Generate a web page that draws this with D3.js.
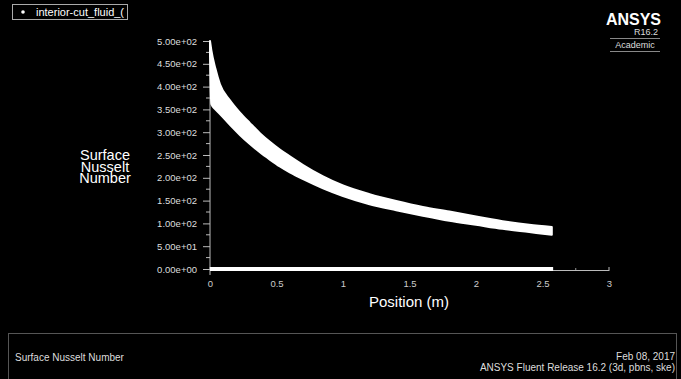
<!DOCTYPE html>
<html>
<head>
<meta charset="utf-8">
<script src="https://cdn.jsdelivr.net/npm/d3@7"></script>
<style>
  html, body { margin: 0; padding: 0; background: #000; }
  svg { display: block; }
  text { font-family: "Liberation Sans", Arial, sans-serif; }
</style>
</head>
<body>
<svg width="681" height="379"></svg>
<script>
// position along the cut (m) and the envelope of the scattered Nusselt cloud
var position = [0, 0.01, 0.04, 0.075, 0.15, 0.225, 0.3, 0.375, 0.45, 0.525, 0.6, 0.7, 0.85, 1.0, 1.2, 1.4, 1.6, 1.8, 2.0, 2.2, 2.4, 2.57];
var nuUpper  = [500, 480, 440, 405, 370, 343, 320, 298, 279, 262, 247, 228, 203, 183, 164, 149, 136, 126, 115, 105, 97, 92];
var nuLower  = [469, 362, 350, 340, 316, 294, 274, 256, 240, 225, 212, 197, 177, 160, 142, 129, 117, 106, 97, 88, 81, 75];

// points of the cut lying at Nu = 0
var zeroPos = [0, 2.58];
var zeroNu  = [0, 0];

var yTicks = [0, 50, 100, 150, 200, 250, 300, 350, 400, 450, 500];
var yMinor = [25, 75, 125, 175, 225, 275, 325, 375, 425, 475];
var xTicks = [0, 0.5, 1, 1.5, 2, 2.5, 3];
var xMinor = [0.25, 0.75, 1.25, 1.75, 2.25, 2.75];

var legendLabel = "interior-cut_fluid_(";
var yTitle = ["Surface", "Nusselt", "Number"];
var xTitle = "Position (m)";

var svg = d3.select("svg");
svg.append("rect").attr("width", 681).attr("height", 379).attr("fill", "#000");

var x = d3.scaleLinear().domain([0, 3]).range([210, 609]);
var y = d3.scaleLinear().domain([0, 500]).range([269, 41]);

function sci(v) {
  if (v === 0) return "0.00e+00";
  var s = d3.format(".2e")(v);   // e.g. 5.00e+2
  var parts = s.split("e");
  var sign = parts[1][0], ex = parts[1].slice(1);
  if (ex.length < 2) ex = "0" + ex;
  return parts[0] + "e" + sign + ex;
}

// y axis
var yAxis = svg.append("g").attr("transform", "translate(210,0)");
yAxis.call(d3.axisLeft(y).tickValues(yTicks).tickSize(7).tickPadding(6).tickFormat(sci));
yAxis.call(function(g) {
  g.select(".domain").remove();
  g.selectAll("line").attr("stroke", "#bbb");
  g.selectAll("text").attr("fill", "#ddd").attr("font-size", 9.5)
    .attr("font-family", "'Liberation Sans', Arial, sans-serif");
});
yAxis.selectAll(".minor").data(yMinor).enter().append("line")
  .attr("x1", -4).attr("x2", 0)
  .attr("y1", function(d) { return y(d); }).attr("y2", function(d) { return y(d); })
  .attr("stroke", "#bbb");
yAxis.append("line").attr("x1", 0).attr("x2", 0).attr("y1", y(500)).attr("y2", 275).attr("stroke", "#bbb");

// x axis
var xAxis = svg.append("g").attr("transform", "translate(0,270)");
xAxis.call(d3.axisBottom(x).tickValues(xTicks).tickSize(0).tickPadding(10)
  .tickFormat(function(d) { return String(d); }));
xAxis.call(function(g) {
  g.select(".domain").attr("stroke", "#bbb");
  g.selectAll("text").attr("fill", "#ccc").attr("font-size", 9.5)
    .attr("font-family", "'Liberation Sans', Arial, sans-serif");
});
xAxis.selectAll(".maj").data(xTicks).enter().append("line")
  .attr("x1", function(d) { return x(d); }).attr("x2", function(d) { return x(d); })
  .attr("y1", -3).attr("y2", 0).attr("stroke", "#bbb");
xAxis.selectAll(".min").data(xMinor).enter().append("line")
  .attr("x1", function(d) { return x(d); }).attr("x2", function(d) { return x(d); })
  .attr("y1", -2).attr("y2", 0).attr("stroke", "#999");

// titles
var yt = svg.append("text").attr("text-anchor", "middle").attr("fill", "#fff").attr("font-size", 14.5);
yTitle.forEach(function(t, i) {
  yt.append("tspan").attr("x", 105).attr("y", 160 + i * 11.7).text(t);
});
svg.append("text").attr("x", 409).attr("y", 307).attr("text-anchor", "middle")
  .attr("fill", "#fff").attr("font-size", 15).text(xTitle);

// scattered cloud drawn as band between envelopes
var band = position.map(function(p, i) { return {p: p, hi: nuUpper[i], lo: nuLower[i]}; });
var area = d3.area()
  .x(function(d) { return x(d.p); })
  .y0(function(d) { return y(d.lo); })
  .y1(function(d) { return y(d.hi); })
  .curve(d3.curveMonotoneX);
svg.append("path").datum(band).attr("d", area)
  .attr("fill", "#fff").attr("stroke", "#fff").attr("stroke-width", 2).attr("stroke-linejoin", "round");

var zero = zeroPos.map(function(p, i) { return {p: p, v: zeroNu[i]}; });
svg.append("path").datum(zero)
  .attr("d", d3.line().x(function(d) { return x(d.p); }).y(function(d) { return y(d.v); }))
  .attr("stroke", "#fff").attr("stroke-width", 4).attr("fill", "none");

// legend box
svg.append("clipPath").attr("id", "legclip").append("rect")
  .attr("x", 12).attr("y", 4).attr("width", 115).attr("height", 16);
var leg = svg.append("g");
leg.append("rect").attr("x", 12.5).attr("y", 4.5).attr("width", 115).attr("height", 15)
  .attr("fill", "#000").attr("stroke", "#aaa");
leg.append("g").attr("clip-path", "url(#legclip)").append("text")
  .attr("x", 36).attr("y", 16).attr("fill", "#fff").attr("font-size", 11).text(legendLabel);
leg.append("circle").attr("cx", 23).attr("cy", 12).attr("r", 1.8).attr("fill", "#fff");

// ANSYS mark
var logo = svg.append("g");
logo.append("text").attr("x", 661).attr("y", 25).attr("text-anchor", "end")
  .attr("fill", "#fff").attr("font-size", 16).attr("font-weight", "bold")
  .attr("font-family", "'DejaVu Sans Condensed', 'DejaVu Sans', sans-serif").text("ANSYS");
logo.append("text").attr("x", 658).attr("y", 35).attr("text-anchor", "end")
  .attr("fill", "#ddd").attr("font-size", 9)
  .attr("font-family", "'DejaVu Sans Condensed', 'DejaVu Sans', sans-serif").text("R16.2");
logo.append("line").attr("x1", 610).attr("x2", 660).attr("y1", 38.5).attr("y2", 38.5).attr("stroke", "#888");
logo.append("text").attr("x", 635).attr("y", 48).attr("text-anchor", "middle")
  .attr("fill", "#ddd").attr("font-size", 9)
  .attr("font-family", "'DejaVu Sans Condensed', 'DejaVu Sans', sans-serif").text("Academic");
logo.append("line").attr("x1", 610).attr("x2", 660).attr("y1", 51.5).attr("y2", 51.5).attr("stroke", "#888");

// footer panel
svg.append("rect").attr("x", 8.5).attr("y", 333.5).attr("width", 668).attr("height", 60)
  .attr("fill", "#000").attr("stroke", "#555");
svg.append("text").attr("x", 15).attr("y", 361).attr("fill", "#ddd").attr("font-size", 10)
  .text("Surface Nusselt Number");
svg.append("text").attr("x", 675).attr("y", 360).attr("text-anchor", "end").attr("fill", "#ddd")
  .attr("font-size", 10).text("Feb 08, 2017");
svg.append("text").attr("x", 675).attr("y", 371).attr("text-anchor", "end").attr("fill", "#ddd")
  .attr("font-size", 10).text("ANSYS Fluent Release 16.2 (3d, pbns, ske)");
</script>
</body>
</html>
